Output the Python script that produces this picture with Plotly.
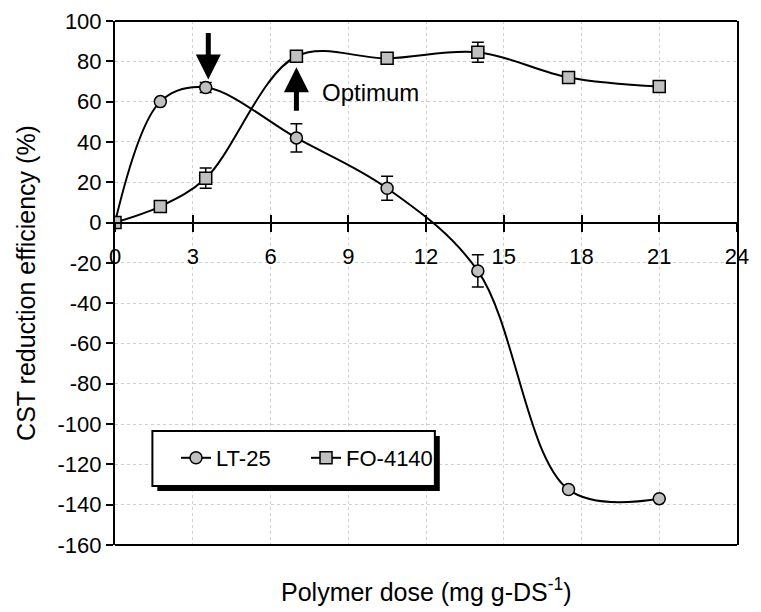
import plotly.graph_objects as go

dose = [0, 1.75, 3.5, 7, 10.5, 14, 17.5, 21]
lt25 = [0, 60, 67, 42, 17, -24, -132.5, -137]
lt25_err = [0, 0, 2.5, 7, 6, 8, 0, 0]
fo4140 = [0, 8, 22, 82.5, 81.5, 84.5, 72, 67.5]
fo4140_err = [0, 1, 5, 0, 0, 5, 0, 0]

x_ticks = [0, 3, 6, 9, 12, 15, 18, 21, 24]
y_ticks = list(range(-160, 101, 20))
y_tick_text = [str(v) for v in y_ticks]

FONT = "Arial, Liberation Sans, sans-serif"
GREY = "#c0c0c0"

# page offset from default body margin
OFF = 8
FIG_W, FIG_H = 761 - OFF, 612 - OFF
# plot area in page pixels
L, R, T, B = 115, 747, 21, 545
W, H = R - L, B - T


def px_x(p):
    return (p - L) / W


def px_y(p):
    return (B - p) / H


fig = go.Figure()
fig.add_trace(go.Scatter(
    x=dose, y=lt25, name="LT-25", mode="lines+markers", xaxis="x", yaxis="y",
    line=dict(color="black", width=2, shape="spline", smoothing=1),
    marker=dict(symbol="circle", size=12, color=GREY, line=dict(color="black", width=1.5)),
    error_y=dict(type="data", array=lt25_err, visible=True, color="black", thickness=1.5, width=6),
))
fig.add_trace(go.Scatter(
    x=dose, y=fo4140, name="FO-4140", mode="lines+markers", xaxis="x2", yaxis="y",
    line=dict(color="black", width=2, shape="spline", smoothing=1),
    marker=dict(symbol="square", size=12, color=GREY, line=dict(color="black", width=1.5)),
    error_y=dict(type="data", array=fo4140_err, visible=True, color="black", thickness=1.5, width=6),
))

zero_pos = (0 - (-160)) / (100 - (-160))

fig.update_layout(
    width=FIG_W, height=FIG_H,
    margin=dict(l=L - OFF, r=FIG_W - (R - OFF), t=T - OFF, b=FIG_H - (B - OFF)),
    paper_bgcolor="white", plot_bgcolor="white",
    font=dict(family=FONT, size=22, color="black"),
    showlegend=True,
    legend=dict(
        x=px_x(177), y=px_y(458), xanchor="left", yanchor="middle",
        orientation="h", bgcolor="rgba(0,0,0,0)", borderwidth=0,
        font=dict(size=22), entrywidth=85,
    ),
    xaxis=dict(
        anchor="free", position=zero_pos,
        range=[0, 24], tickvals=x_ticks, ticks="outside", ticklen=8, tickwidth=2,
        tickcolor="black", showline=True, linecolor="black", linewidth=2,
        showgrid=True, gridcolor="#d0d0d0", griddash="dot", gridwidth=1,
        zeroline=False, tickfont=dict(size=22), ticklabelstandoff=6,
    ),
    xaxis2=dict(
        overlaying="x", anchor="free", position=zero_pos, side="bottom",
        range=[0, 24], tickvals=x_ticks, ticks="inside", ticklen=8, tickwidth=2,
        tickcolor="black", showline=False, showticklabels=False,
        showgrid=False, zeroline=False,
    ),
    yaxis=dict(
        range=[-160, 100], tickvals=y_ticks, ticktext=y_tick_text,
        ticks="outside", ticklen=7, tickwidth=2,
        tickcolor="black", showgrid=True, gridcolor="#d0d0d0", griddash="dot", gridwidth=1,
        showline=True, mirror=True, linecolor="black", linewidth=2, zeroline=False,
        tickfont=dict(size=22),
        title=dict(text="CST reduction efficiency (%)", font=dict(size=25), standoff=15),
        automargin=False,
    ),
)

# top and bottom frame lines
fig.add_shape(type="line", xref="paper", yref="paper", x0=0, x1=1, y0=1, y1=1,
              line=dict(color="black", width=2))
fig.add_shape(type="line", xref="paper", yref="paper", x0=0, x1=1, y0=0, y1=0,
              line=dict(color="black", width=2))

# legend box with shadow
fig.add_shape(type="rect", xref="paper", yref="paper", layer="above",
              x0=px_x(158), x1=px_x(445), y0=px_y(491), y1=px_y(436),
              fillcolor="black", line=dict(width=0))
fig.add_shape(type="rect", xref="paper", yref="paper", layer="above",
              x0=px_x(153), x1=px_x(440), y0=px_y(486), y1=px_y(431),
              fillcolor="white", line=dict(color="black", width=2))

fig.add_annotation(x=3.6, y=71, ax=0, ay=-48, xref="x", yref="y",
                   showarrow=True, arrowhead=2, arrowwidth=5, arrowsize=1.0, arrowcolor="black", text="")
fig.add_annotation(x=7, y=77, ax=0, ay=45, xref="x", yref="y",
                   showarrow=True, arrowhead=2, arrowwidth=5, arrowsize=1.0, arrowcolor="black", text="")
fig.add_annotation(x=7.92, y=64.6, xref="x", yref="y", text="Optimum", showarrow=False,
                   xanchor="left", yanchor="middle", font=dict(size=24))
fig.add_annotation(x=0.5, y=px_y(590), xref="paper", yref="paper",
                   text="Polymer dose (mg g-DS<sup>-1</sup>)", showarrow=False,
                   xanchor="center", yanchor="middle", font=dict(size=25))

fig.write_html("out.html")
